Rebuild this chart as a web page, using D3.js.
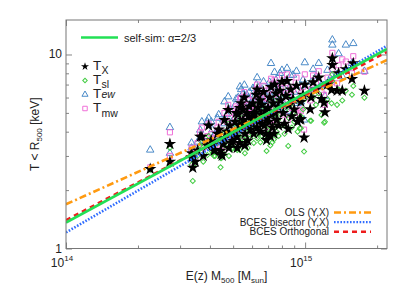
<!DOCTYPE html>
<html>
<head>
<meta charset="utf-8">
<script src="https://cdn.jsdelivr.net/npm/d3@7"></script>
<style>
  body { margin: 0; background: #fff; }
  svg { display: block; font-family: "Liberation Sans", Arial, sans-serif; }
</style>
</head>
<body>
<div id="chart"></div>
<script>
// cluster masses, E(z) M500 in units of 1e14 Msun
const mass = [
  2.25, 2.72, 2.72, 3.39, 3.47, 3.64, 3.70, 3.35, 3.35, 3.55, 3.90, 3.95, 3.75,
  4.05, 4.16, 4.20, 4.30, 4.43, 4.45, 4.50, 4.60, 4.70, 4.77, 4.85, 4.94, 4.98, 4.60, 4.35, 4.10, 4.80, 4.55,
  5.05, 5.10, 5.17, 5.20, 5.25, 5.33, 5.34, 5.40, 5.45, 5.50, 5.57, 5.60, 5.65, 5.70, 5.75, 5.80, 5.85, 5.90, 5.95, 5.30, 5.15, 5.60, 5.50,
  6.00, 6.05, 6.10, 6.15, 6.20, 6.25, 6.30, 6.35, 6.40, 6.48, 6.50, 6.55, 6.60, 6.70, 6.75, 6.80, 6.85, 6.90, 6.95, 6.30, 6.10, 6.60,
  7.00, 7.05, 7.10, 7.20, 7.25, 7.30, 7.35, 7.40, 7.50, 7.55, 7.60, 7.70, 7.75, 7.85, 7.90, 8.00, 7.15, 7.45,
  8.10, 8.20, 8.30, 8.50, 8.55, 8.70, 8.80, 8.90, 9.00, 9.20, 9.30, 9.50, 9.60, 9.60, 9.90, 9.97, 8.40, 9.80,
  10.5, 10.6, 10.8, 11.1, 11.4, 11.7, 12.0, 12.1, 12.4, 12.9, 13.0, 13.0,
  13.6, 13.8, 14.3, 14.8, 15.7, 15.9, 17.7
];

// temperatures inside R500 [keV]
const tX = [
  2.57, 3.46, 2.80, 2.61, 2.80, 3.77, 3.77, 3.10, 2.95, 3.20, 3.40, 4.30, 3.00,
  3.60, 3.19, 3.22, 3.90, 3.19, 3.07, 3.01, 4.60, 4.00, 5.18, 4.30, 3.50, 3.59, 3.70, 4.10, 3.40, 3.30, 3.45,
  3.90, 4.50, 3.77, 3.30, 4.90, 3.50, 5.30, 5.60, 4.20, 4.60, 6.00, 3.90, 4.40, 5.00, 3.60, 4.80, 5.40, 4.10, 4.60, 4.30, 5.00, 3.40, 5.20,
  4.40, 5.60, 3.90, 5.00, 4.70, 6.20, 4.20, 5.30, 4.50, 5.80, 4.00, 4.90, 5.50, 6.40, 4.30, 5.10, 3.90, 3.62, 4.70, 6.60, 4.90, 4.40,
  5.30, 4.50, 6.00, 6.80, 4.90, 4.20, 5.60, 3.90, 5.00, 6.30, 4.60, 5.40, 4.30, 6.50, 5.80, 7.24, 3.80, 7.00,
  5.00, 4.40, 6.10, 4.13, 5.50, 6.60, 4.80, 5.90, 5.20, 6.90, 4.50, 4.63, 5.70, 4.63, 3.73, 7.00, 7.30, 6.20,
  5.22, 6.00, 7.20, 6.60, 7.60, 5.90, 5.64, 5.04, 7.00, 6.56, 9.56, 8.83,
  6.51, 8.00, 6.51, 8.40, 7.48, 9.00, 6.51
];
const tSl = [
  2.55, 3.30, 2.70, 2.23, 2.75, 3.40, 3.50, 2.90, 2.70, 3.00, 3.03, 3.80, 2.80,
  3.20, 3.00, 3.00, 3.50, 2.62, 2.92, 2.95, 4.00, 3.60, 4.40, 3.90, 3.25, 3.30, 3.40, 3.60, 3.10, 3.00, 3.10,
  3.40, 4.00, 3.30, 3.22, 4.20, 3.22, 4.60, 4.70, 3.70, 4.00, 5.00, 3.50, 3.80, 4.30, 3.30, 4.10, 4.50, 3.70, 4.20, 3.80, 4.30, 3.10, 4.50,
  3.90, 4.70, 3.50, 4.40, 4.00, 5.20, 3.70, 4.50, 3.90, 4.90, 3.53, 4.20, 4.70, 5.40, 3.70, 4.30, 3.62, 3.18, 4.10, 5.50, 4.20, 3.80,
  4.50, 3.90, 5.10, 5.70, 4.20, 3.53, 4.80, 3.65, 4.30, 5.30, 4.00, 4.60, 3.80, 5.50, 4.90, 6.00, 3.40, 5.80,
  4.30, 3.90, 5.20, 3.38, 4.70, 5.50, 4.20, 5.00, 4.50, 5.80, 4.00, 4.17, 4.80, 4.17, 3.16, 5.90, 6.10, 5.20,
  4.55, 4.55, 6.00, 5.50, 6.30, 4.88, 4.45, 4.50, 5.90, 5.60, 7.90, 7.30,
  5.50, 6.60, 5.80, 6.51, 6.20, 6.88, 5.99
];
const tEw = [
  3.22, 4.21, 3.10, 2.90, 3.20, 4.08, 4.50, 3.50, 3.30, 3.54, 4.50, 4.70, 3.60,
  4.50, 3.80, 3.90, 4.70, 3.70, 3.60, 3.50, 5.71, 4.90, 6.06, 5.20, 4.20, 4.40, 4.40, 4.90, 4.10, 3.90, 4.60,
  4.70, 5.50, 4.50, 4.00, 6.00, 4.30, 6.82, 6.60, 5.10, 5.80, 6.96, 4.80, 5.40, 6.20, 4.40, 5.90, 6.40, 5.00, 5.60, 5.30, 5.90, 4.20, 6.30,
  5.50, 6.70, 4.80, 6.10, 5.70, 7.00, 5.20, 6.40, 5.50, 6.56, 4.90, 5.90, 6.60, 7.24, 5.30, 6.20, 4.80, 4.50, 5.80, 7.60, 6.00, 5.50,
  6.50, 5.60, 7.20, 9.00, 6.00, 5.20, 6.80, 4.90, 6.10, 7.40, 5.70, 6.60, 5.30, 8.00, 7.00, 8.30, 4.70, 8.10,
  6.20, 5.50, 7.30, 5.10, 6.70, 7.80, 6.00, 7.84, 6.40, 8.20, 5.60, 5.80, 6.90, 5.70, 4.60, 9.08, 8.50, 7.40,
  6.40, 7.20, 8.40, 7.70, 9.01, 7.00, 6.90, 6.10, 8.30, 7.80, 11.9, 11.2,
  7.90, 10.1, 7.70, 11.2, 9.00, 11.4, 8.20
];
const tMw = [
  2.62, 3.97, 3.00, 2.70, 2.90, 3.97, 4.20, 3.30, 3.10, 3.50, 3.80, 4.40, 3.30,
  3.90, 3.50, 3.40, 4.20, 3.30, 3.20, 3.20, 5.00, 4.50, 5.50, 4.70, 3.80, 3.90, 4.00, 4.50, 3.70, 3.50, 4.00,
  4.30, 5.00, 4.10, 3.60, 5.30, 3.90, 5.90, 6.00, 4.60, 5.10, 6.40, 4.30, 4.80, 5.50, 4.00, 5.30, 5.80, 4.50, 5.00, 4.70, 5.40, 3.80, 5.70,
  4.90, 6.10, 4.30, 5.50, 5.20, 6.60, 4.60, 5.80, 5.00, 6.20, 4.40, 5.30, 6.00, 6.90, 4.70, 5.60, 4.30, 4.00, 5.20, 7.00, 5.40, 4.90,
  5.90, 5.00, 6.60, 7.50, 5.40, 4.60, 6.20, 4.40, 5.50, 6.80, 5.10, 6.00, 4.80, 7.10, 6.40, 7.80, 4.20, 7.40,
  5.60, 4.90, 6.70, 4.60, 6.10, 7.20, 5.30, 6.60, 5.80, 7.60, 5.00, 5.20, 6.30, 5.10, 4.10, 7.90, 7.90, 6.80,
  5.80, 6.60, 7.80, 7.10, 8.20, 6.40, 6.20, 5.50, 7.60, 7.20, 10.2, 8.32,
  7.10, 8.80, 9.44, 9.20, 8.00, 9.80, 8.15
];

// scaling relations T = norm * (M / 1e14)^slope
const fitNames = ["self-sim: \u03b1=2/3", "OLS (Y,X)", "BCES bisector (Y,X)", "BCES Orthogonal"];
const fitNorm = [1.36, 1.69, 1.21, 1.40];
const fitSlope = [2 / 3, 0.554, 0.717, 0.646];

const width = 407, height = 291;
const margin = { left: 66, right: 20, top: 20, bottom: 42.5 };

const svg = d3.select("#chart").append("svg")
  .attr("width", width)
  .attr("height", height);

svg.append("rect").attr("width", width).attr("height", height).attr("fill", "#fff");

const x = d3.scaleLog().domain([1e14, 2.2e15]).range([margin.left, width - margin.right]);
const y = d3.scaleLog().domain([1, 15.06]).range([height - margin.bottom, margin.top]);

const x0 = x.range()[0], x1 = x.range()[1];
const y0 = y.range()[0], y1 = y.range()[1];

svg.append("defs").append("clipPath").attr("id", "plot-clip")
  .append("rect")
  .attr("x", x0).attr("y", y1)
  .attr("width", x1 - x0).attr("height", y0 - y1);

// ticks (inward, mirrored on all sides)
const xMajor = [1e14, 1e15];
const xMinor = [2e14, 3e14, 4e14, 5e14, 6e14, 7e14, 8e14, 9e14, 2e15];
const yMajor = [1, 10];
const yMinor = [2, 3, 4, 5, 6, 7, 8, 9];

const axisStyle = g => {
  g.select(".domain").remove();
  g.selectAll("line").attr("stroke", "#666").attr("stroke-width", 0.8);
  g.selectAll("text").remove();
};

[[d3.axisBottom, y0], [d3.axisTop, y1]].forEach(([axis, pos]) => {
  svg.append("g").attr("transform", `translate(0,${pos})`)
    .call(axis(x).tickValues(xMajor).tickSize(-6)).call(axisStyle);
  svg.append("g").attr("transform", `translate(0,${pos})`)
    .call(axis(x).tickValues(xMinor).tickSize(-3)).call(axisStyle);
});
[[d3.axisLeft, x0], [d3.axisRight, x1]].forEach(([axis, pos]) => {
  svg.append("g").attr("transform", `translate(${pos},0)`)
    .call(axis(y).tickValues(yMajor).tickSize(-6)).call(axisStyle);
  svg.append("g").attr("transform", `translate(${pos},0)`)
    .call(axis(y).tickValues(yMinor).tickSize(-3)).call(axisStyle);
});

// tick labels
const xl = svg.selectAll(".xlab").data(xMajor).enter().append("text")
  .attr("class", "xlab")
  .attr("x", d => x(d) - 4)
  .attr("y", y0 + 18)
  .attr("text-anchor", "middle")
  .attr("font-size", 12)
  .attr("fill", "#222");
xl.append("tspan").text("10");
xl.append("tspan").attr("dy", -6).attr("font-size", 8).text(d => Math.round(Math.log10(d)));

svg.selectAll(".ylab").data(yMajor).enter().append("text")
  .attr("class", "ylab")
  .attr("x", x0 - 4)
  .attr("y", d => y(d) + 4)
  .attr("text-anchor", "end")
  .attr("font-size", 12)
  .attr("fill", "#222")
  .text(d => d);

// axis titles
const xt = svg.append("text")
  .attr("x", (x0 + x1) / 2).attr("y", 280)
  .attr("text-anchor", "middle")
  .attr("font-size", 12)
  .attr("fill", "#222");
xt.append("tspan").text("E(z) M");
xt.append("tspan").attr("font-size", 8).attr("dy", 3).text("500");
xt.append("tspan").attr("dy", -3).text(" [M");
xt.append("tspan").attr("font-size", 8).attr("dy", 3).text("sun");
xt.append("tspan").attr("dy", -3).text("]");

const yt = svg.append("text")
  .attr("transform", `translate(39,${(y0 + y1) / 2}) rotate(-90)`)
  .attr("text-anchor", "middle")
  .attr("font-size", 12)
  .attr("fill", "#222");
yt.append("tspan").text("T < R");
yt.append("tspan").attr("font-size", 8).attr("dy", 3).text("500");
yt.append("tspan").attr("dy", -3).text(" [keV]");

// point series
const series = [
  { key: "ew", values: tEw, type: d3.symbolTriangle, size: 24, legendSize: 16, fill: "none", stroke: "#4a8ac8", rot: 0 },
  { key: "mw", values: tMw, type: d3.symbolSquare, size: 26, legendSize: 20, fill: "none", stroke: "#f070d8", rot: 0 },
  { key: "sl", values: tSl, type: d3.symbolSquare, size: 13, legendSize: 10, fill: "none", stroke: "#44cc44", rot: 45 },
  { key: "x", values: tX, type: d3.symbolStar, size: 48, legendSize: 20, fill: "#000", stroke: "none", rot: 0 }
];

const pts = svg.append("g").attr("clip-path", "url(#plot-clip)");
series.forEach(s => {
  pts.append("g").attr("class", `pts-${s.key}`)
    .selectAll("path")
    .data(mass)
    .enter()
    .append("path")
    .attr("transform", (m, i) => `translate(${x(m * 1e14)},${y(s.values[i])}) rotate(${s.rot})`)
    .attr("d", d3.symbol().type(s.type).size(s.size))
    .attr("fill", s.fill)
    .attr("stroke", s.stroke)
    .attr("stroke-width", 1);
});

// fit lines
const fitStyle = [
  { color: "#22e055", dash: null },
  { color: "#ff9a10", dash: "7,3,2,3" },
  { color: "#2f6cff", dash: "1.6,1.6" },
  { color: "#ee1c1c", dash: "5,4" }
];
const line = d3.line().x(d => x(d[0])).y(d => y(d[1]));
const fitData = fitNorm.map((n, i) =>
  [1e14, 2.2e15].map(m => [m, n * Math.pow(m / 1e14, fitSlope[i])]));

const lines = svg.append("g").attr("clip-path", "url(#plot-clip)");
// draw the fits first, self-similar on top
[1, 2, 3, 0].forEach(i => {
  lines.append("path")
    .attr("d", line(fitData[i]))
    .attr("fill", "none")
    .attr("stroke", fitStyle[i].color)
    .attr("stroke-width", 2.6)
    .attr("stroke-dasharray", fitStyle[i].dash);
});

// frame
svg.append("rect")
  .attr("x", x0).attr("y", y1)
  .attr("width", x1 - x0).attr("height", y0 - y1)
  .attr("fill", "none")
  .attr("stroke", "#777")
  .attr("stroke-width", 1);

// legend: self-similar (top left)
svg.append("line")
  .attr("x1", 81).attr("x2", 118).attr("y1", 37.5).attr("y2", 37.5)
  .attr("stroke", fitStyle[0].color).attr("stroke-width", 2.6);
svg.append("text")
  .attr("x", 124).attr("y", 41.5)
  .attr("font-size", 11).attr("fill", "#222")
  .text(fitNames[0]);

// legend: temperature definitions
const tLegend = [
  { series: series[3], sub: "X", subDy: 4, italic: false, y: 70 },
  { series: series[2], sub: "sl", subDy: 3.5, italic: false, y: 84 },
  { series: series[0], sub: "ew", subDy: 0, italic: true, y: 98 },
  { series: series[1], sub: "mw", subDy: 4.5, italic: false, y: 112 }
];
tLegend.forEach(d => {
  svg.append("path")
    .attr("transform", `translate(85,${d.y - 3.5}) rotate(${d.series.rot})`)
    .attr("d", d3.symbol().type(d.series.type).size(d.series.legendSize))
    .attr("fill", d.series.fill)
    .attr("stroke", d.series.stroke)
    .attr("stroke-width", 1);
  svg.append("text")
    .attr("x", 93).attr("y", d.y)
    .attr("font-size", 13.5).attr("fill", "#222")
    .text("T");
  svg.append("text")
    .attr("x", 101.5).attr("y", d.y + d.subDy)
    .attr("font-size", 10.5).attr("fill", "#222")
    .attr("font-style", d.italic ? "italic" : null)
    .text(d.sub);
});

// legend: fits (bottom right)
[1, 2, 3].forEach((i, k) => {
  const ly = 212.5 + k * 9.6;
  svg.append("text")
    .attr("x", 329).attr("y", ly + 3.5)
    .attr("text-anchor", "end")
    .attr("font-size", 10).attr("fill", "#222")
    .text(fitNames[i]);
  svg.append("line")
    .attr("x1", 334).attr("x2", 371).attr("y1", ly).attr("y2", ly)
    .attr("stroke", fitStyle[i].color)
    .attr("stroke-width", 2.4)
    .attr("stroke-dasharray", fitStyle[i].dash);
});
</script>
</body>
</html>
